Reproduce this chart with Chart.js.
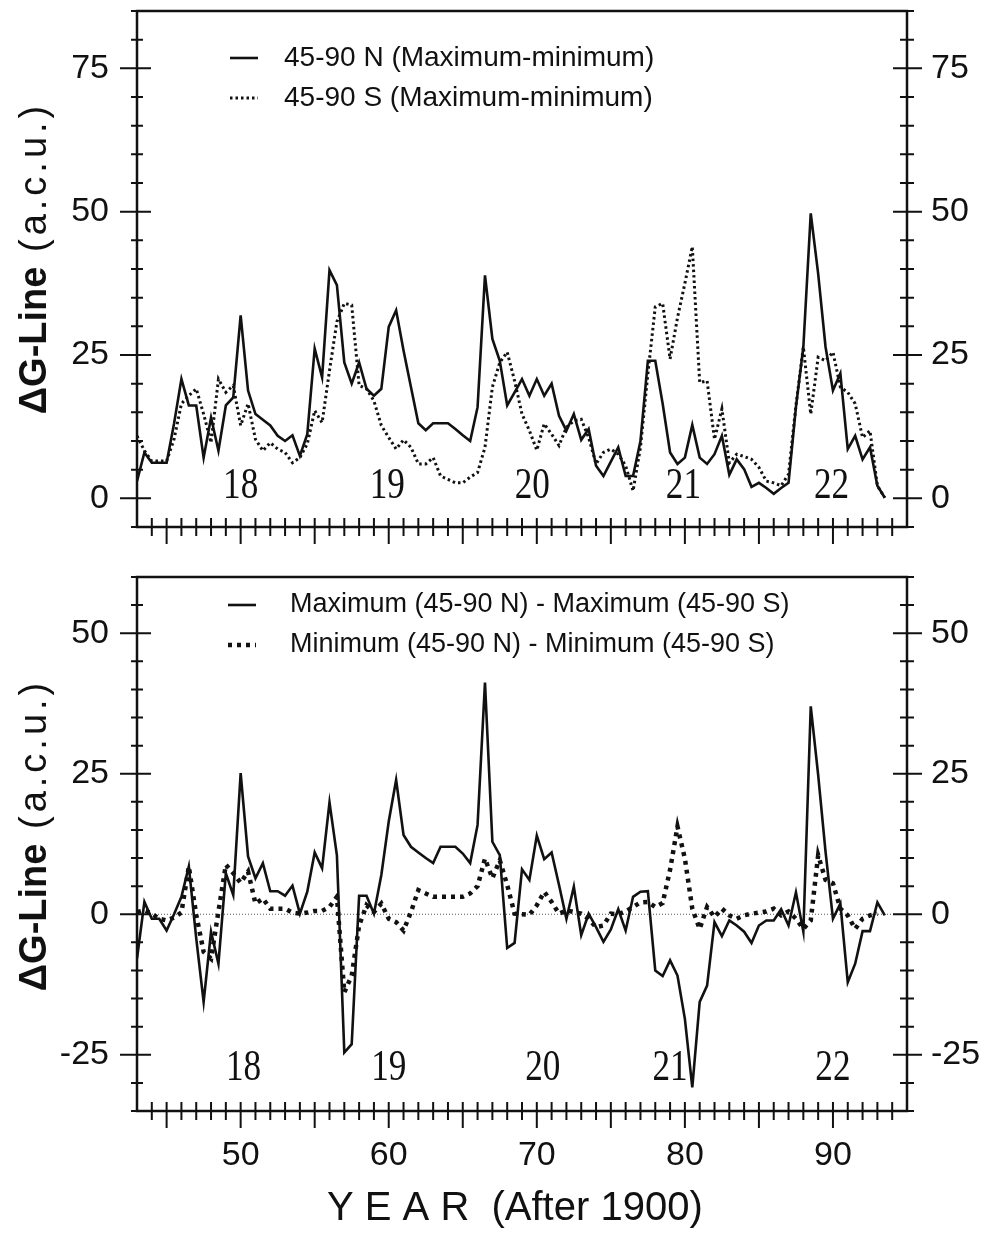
<!DOCTYPE html>
<html>
<head>
<meta charset="utf-8">
<script src="https://cdn.jsdelivr.net/npm/chart.js@4.4.1/dist/chart.umd.min.js"></script>
<style>
  body { margin: 0; background: #fff; }
  canvas { position: absolute; left: 0; }
  #topChart { top: 0; }
  #bottomChart { top: 560px; }
</style>
</head>
<body>
<canvas id="topChart" width="990" height="560"></canvas>
<canvas id="bottomChart" width="990" height="673"></canvas>
<script>
// half-year sample times (years after 1900)
var years = [
  43, 43.5, 44, 44.5, 45, 45.5, 46, 46.5, 47, 47.5,
  48, 48.5, 49, 49.5, 50, 50.5, 51, 51.5, 52, 52.5,
  53, 53.5, 54, 54.5, 55, 55.5, 56, 56.5, 57, 57.5,
  58, 58.5, 59, 59.5, 60, 60.5, 61, 61.5, 62, 62.5,
  63, 63.5, 64, 64.5, 65, 65.5, 66, 66.5, 67, 67.5,
  68, 68.5, 69, 69.5, 70, 70.5, 71, 71.5, 72, 72.5,
  73, 73.5, 74, 74.5, 75, 75.5, 76, 76.5, 77, 77.5,
  78, 78.5, 79, 79.5, 80, 80.5, 81, 81.5, 82, 82.5,
  83, 83.5, 84, 84.5, 85, 85.5, 86, 86.5, 87, 87.5,
  88, 88.5, 89, 89.5, 90, 90.5, 91, 91.5, 92, 92.5,
  93, 93.5
];

// upper panel: maximum-minimum, 45-90 N and 45-90 S
var rangeNorth = [
  3.0, 8.0, 6.2, 6.2, 6.2, 13.0, 20.8, 16.2, 16.2, 7.1,
  14.1, 8.3, 16.2, 17.6, 31.9, 18.8, 14.7, 13.7, 12.7, 10.9,
  10.0, 11.0, 7.4, 11.2, 26.1, 21.1, 39.8, 37.2, 23.7, 20.0,
  23.7, 19.1, 17.9, 19.1, 29.9, 32.8, 25.8, 19.4, 13.1, 11.9,
  13.1, 13.1, 13.1, 12.1, 11.0, 10.0, 15.9, 38.9, 27.8, 24.0,
  16.2, 18.5, 20.8, 17.9, 20.8, 17.9, 20.0, 14.4, 11.8, 14.7,
  10.2, 12.1, 5.7, 3.9, 6.4, 8.9, 3.9, 3.9, 10.0, 24.0,
  24.0, 16.5, 8.0, 6.0, 7.1, 12.8, 7.1, 6.0, 7.7, 10.9,
  4.1, 6.8, 5.1, 2.0, 2.7, 1.8, 0.8, 1.8, 2.7, 15.9,
  26.4, 49.7, 39.2, 26.4, 18.8, 21.8, 8.6, 10.9, 6.8, 8.9,
  2.2, 0.1
];
var rangeSouth = [
  10.9, 8.3, 6.5, 6.5, 6.5, 10.3, 16.5, 17.9, 19.1, 14.7,
  9.7, 20.8, 18.5, 19.7, 12.7, 16.5, 10.3, 8.3, 9.7, 8.6,
  8.0, 6.2, 7.1, 9.5, 15.3, 13.2, 22.3, 30.8, 34.0, 33.7,
  19.7, 19.1, 17.0, 12.7, 10.6, 8.6, 10.2, 8.9, 6.0, 6.0,
  7.1, 3.9, 3.3, 2.7, 2.7, 3.7, 4.5, 8.9, 19.4, 23.7,
  25.5, 20.5, 14.7, 11.8, 8.4, 13.0, 11.2, 9.2, 12.4, 13.5,
  13.8, 10.6, 6.0, 8.0, 8.6, 7.7, 5.7, 1.3, 8.9, 21.7,
  33.4, 34.0, 24.3, 31.5, 37.5, 43.9, 20.2, 20.5, 10.3, 15.6,
  6.2, 7.7, 7.3, 6.8, 5.4, 3.0, 2.7, 2.2, 4.2, 16.2,
  26.4, 14.7, 24.6, 24.0, 25.5, 19.4, 18.5, 16.5, 10.6, 11.8,
  2.2, 0.1
];

// lower panel: N minus S of the maxima and of the minima
var maxDiff = [
  -7.9, 2.2, -0.8, -0.8, -2.9, 0.0, 3.1, 8.5, -4.3, -15.6,
  -3.1, -8.8, 7.3, 3.4, 25.1, 10.3, 6.4, 9.1, 4.1, 4.1,
  3.3, 5.1, 0.1, 4.0, 11.0, 8.2, 19.9, 10.5, -24.6, -23.1,
  3.3, 3.3, 0.1, 7.0, 16.5, 23.9, 14.1, 12.0, 11.0, 10.0,
  9.1, 12.0, 12.0, 12.0, 10.8, 9.1, 15.9, 41.2, 12.9, 10.5,
  -6.0, -5.1, 8.0, 6.1, 14.0, 9.8, 11.0, 5.2, -0.8, 4.9,
  -3.7, 0.1, -2.3, -4.9, -2.7, 0.9, -2.9, 3.1, 4.0, 4.1,
  -10.0, -11.0, -8.2, -10.9, -18.6, -30.8, -15.6, -12.7, -1.4, -3.9,
  -1.1, -2.0, -3.1, -5.1, -2.0, -1.1, -1.1, 0.9, -2.0, 3.9,
  -3.1, 37.0, 24.8, 11.1, -0.8, 1.9, -12.1, -8.8, -3.0, -3.0,
  2.1, -0.2
];
var minDiff = [
  0.4, 0.7, 0.1, -0.8, -1.1, -0.6, 0.3, 8.5, -0.1, -6.7,
  -7.9, 0.5, 8.8, 7.3, 5.6, 7.6, 1.9, 2.8, 1.0, 1.0,
  1.0, 0.3, 0.1, 0.3, 0.6, 0.6, 1.3, 3.1, -13.9, -10.9,
  -2.0, 1.6, 0.4, 1.9, -0.8, -1.4, -2.9, 0.4, 4.3, 3.7,
  3.1, 3.1, 3.1, 3.1, 3.1, 3.7, 5.0, 9.9, 6.4, 9.6,
  5.2, 0.1, 0.0, -0.1, 1.6, 4.0, 2.2, 0.1, 0.7, 0.4,
  0.1, -0.8, -2.3, -2.0, 0.1, 0.0, 0.5, 1.3, 2.1, 2.2,
  1.3, 2.0, 7.9, 15.6, 9.9, 1.0, -2.6, 1.3, -0.5, 1.0,
  -0.2, -0.8, -0.2, 0.1, 0.3, 0.5, 1.0, -0.2, 0.5, -0.8,
  -2.6, -1.1, 10.5, 6.1, 5.5, 1.0, -0.2, -2.6, -0.8, -0.2,
  0.1, null
];

// solar cycle numbers and the years they are centred on
var cycleNames = ['18', '19', '20', '21', '22'];
var cycleYearsTop = [50, 59.9, 69.7, 79.9, 89.9];
var cycleYearsBottom = [50.2, 60, 70.4, 79, 90];

var INK = '#111';
var SANS = '"Liberation Sans", Arial, sans-serif';

function pts(vals) {
  return years.map(function (x, i) { return { x: x, y: vals[i] }; });
}

// frame with crossing tick marks, zero line, cycle numbers, legend and titles
var framePlugin = {
  id: 'frame',
  beforeDatasetsDraw: function (chart, args, o) {
    if (!o.zeroLine) return;
    var ctx = chart.ctx, a = chart.chartArea;
    var y0 = chart.scales.y.getPixelForValue(0);
    ctx.save();
    ctx.strokeStyle = '#555';
    ctx.lineWidth = 1;
    ctx.setLineDash([1, 2]);
    ctx.beginPath();
    ctx.moveTo(a.left, y0);
    ctx.lineTo(a.right, y0);
    ctx.stroke();
    ctx.restore();
  },
  afterDraw: function (chart, args, o) {
    var ctx = chart.ctx, a = chart.chartArea;
    var xs = chart.scales.x, ys = chart.scales.y;
    ctx.save();
    ctx.strokeStyle = INK;
    ctx.fillStyle = INK;
    ctx.lineWidth = 2.5;
    ctx.strokeRect(a.left, a.top, a.right - a.left, a.bottom - a.top);

    ctx.lineWidth = 2;
    ctx.beginPath();
    for (var v = Math.ceil(ys.min / 5) * 5; v <= ys.max; v += 5) {
      var py = ys.getPixelForValue(v);
      var major = v % 25 === 0;
      ctx.moveTo(a.left - (major ? 17 : 6), py);
      ctx.lineTo(a.left + (major ? 14 : 6), py);
      ctx.moveTo(a.right - (major ? 14 : 7), py);
      ctx.lineTo(a.right + (major ? 15 : 7), py);
    }
    for (var yr = Math.ceil(xs.min) + 1; yr < xs.max; yr++) {
      var px = xs.getPixelForValue(yr);
      ctx.moveTo(px, a.bottom - 9);
      ctx.lineTo(px, a.bottom + (yr % 5 === 0 ? 17 : 9));
    }
    ctx.stroke();

    // cycle numbers
    ctx.font = '44px "Liberation Serif", serif';
    ctx.textAlign = 'center';
    ctx.textBaseline = 'alphabetic';
    var by = ys.getPixelForValue(o.cycleBase);
    o.cycleYears.forEach(function (cy, i) {
      ctx.save();
      ctx.translate(xs.getPixelForValue(cy), by);
      ctx.scale(0.8, 1);
      ctx.fillText(cycleNames[i], 0, 0);
      ctx.restore();
    });

    // legend
    ctx.textAlign = 'left';
    ctx.textBaseline = 'middle';
    ctx.font = o.legendFont;
    o.legend.forEach(function (item) {
      ctx.save();
      ctx.lineWidth = item.width;
      ctx.setLineDash(item.dash);
      ctx.beginPath();
      ctx.moveTo(item.x1, item.y);
      ctx.lineTo(item.x2, item.y);
      ctx.stroke();
      ctx.restore();
      ctx.fillText(item.text, item.tx, item.y);
    });

    // rotated y title
    ctx.save();
    ctx.translate(o.yTitleX, o.yTitleY);
    ctx.rotate(-Math.PI / 2);
    var fb = 'bold 38px ' + SANS, fr = '38px ' + SANS;
    ctx.font = fb;
    var w1 = ctx.measureText('\u0394G-Line').width;
    ctx.font = fr;
    ctx.letterSpacing = '4px';
    var w2 = ctx.measureText(' (a.c.u.)').width;
    var x0 = -(w1 + w2) / 2;
    ctx.letterSpacing = '0px';
    ctx.font = fb;
    ctx.fillText('\u0394G-Line', x0, 0);
    ctx.font = fr;
    ctx.letterSpacing = '4px';
    ctx.fillText(' (a.c.u.)', x0 + w1, 0);
    ctx.letterSpacing = '0px';
    ctx.restore();

    if (o.xTitle) {
      ctx.font = '40px ' + SANS;
      ctx.textBaseline = 'alphabetic';
      ctx.fillText(o.xTitle, o.xTitleX, o.xTitleY);
    }
    ctx.restore();
  }
};

function makeChart(id, cfg) {
  var tickFont = { family: SANS, size: 34 };
  var yAxis = function (pos, width, pad) {
    return {
      position: pos,
      min: cfg.yMin,
      max: cfg.yMax,
      grid: { display: false, drawTicks: false },
      border: { display: false },
      ticks: {
        stepSize: 5,
        autoSkip: false,
        padding: pad,
        color: INK,
        font: tickFont,
        callback: function (v) { return v % 25 === 0 ? String(v) : null; }
      },
      afterFit: function (s) { s.width = width; s.paddingTop = 0; s.paddingBottom = 0; }
    };
  };
  return new Chart(document.getElementById(id).getContext('2d'), {
    type: 'line',
    data: {
      datasets: [
        {
          data: pts(cfg.solid),
          borderColor: INK,
          borderWidth: 2.6,
          pointRadius: 0,
          tension: 0
        },
        {
          data: pts(cfg.dotted),
          borderColor: INK,
          borderWidth: cfg.dotWidth,
          borderDash: cfg.dotDash,
          pointRadius: 0,
          tension: 0
        }
      ]
    },
    options: {
      responsive: false,
      animation: false,
      devicePixelRatio: 1,
      layout: { padding: { top: cfg.padTop, left: 0, right: 0, bottom: 0 } },
      plugins: {
        legend: { display: false },
        tooltip: { enabled: false },
        frame: cfg.frame
      },
      scales: {
        x: {
          type: 'linear',
          min: 43,
          max: 95,
          grid: { display: false, drawTicks: false },
          border: { display: false },
          ticks: {
            display: cfg.xLabels,
            stepSize: 10,
            autoSkip: false,
            padding: 24,
            color: INK,
            font: tickFont,
            maxRotation: 0,
            callback: function (v) { return v % 10 === 0 ? String(v) : null; }
          },
          afterFit: function (s) { s.height = cfg.xHeight; s.paddingLeft = 0; s.paddingRight = 0; }
        },
        y: yAxis('left', 137, 28),
        y2: yAxis('right', 83, 24)
      }
    },
    plugins: [framePlugin]
  });
}

makeChart('topChart', {
  solid: rangeNorth,
  dotted: rangeSouth,
  dotWidth: 3,
  dotDash: [2.5, 3],
  yMin: -5,
  yMax: 85,
  padTop: 11,
  xHeight: 33,
  xLabels: false,
  frame: {
    zeroLine: false,
    cycleYears: cycleYearsTop,
    cycleBase: 0,
    legendFont: '28px ' + SANS,
    legend: [
      { x1: 230, x2: 258, y: 58, width: 2.6, dash: [], tx: 284, text: '45-90 N (Maximum-minimum)' },
      { x1: 230, x2: 258, y: 98, width: 3, dash: [2.5, 3], tx: 284, text: '45-90 S (Maximum-minimum)' }
    ],
    yTitleX: 36,
    yTitleY: 258
  }
});

makeChart('bottomChart', {
  solid: maxDiff,
  dotted: minDiff,
  dotWidth: 4.5,
  dotDash: [4, 5],
  yMin: -35,
  yMax: 60,
  padTop: 17,
  xHeight: 122,
  xLabels: true,
  frame: {
    zeroLine: true,
    cycleYears: cycleYearsBottom,
    cycleBase: -29.5,
    legendFont: '27px ' + SANS,
    legend: [
      { x1: 228, x2: 256, y: 45, width: 2.6, dash: [], tx: 290, text: 'Maximum (45-90 N) - Maximum (45-90 S)' },
      { x1: 228, x2: 256, y: 85, width: 4.5, dash: [4, 5], tx: 290, text: 'Minimum (45-90 N) - Minimum (45-90 S)' }
    ],
    yTitleX: 36,
    yTitleY: 275,
    xTitle: 'Y E A R  (After 1900)',
    xTitleX: 327,
    xTitleY: 660
  }
});
</script>
</body>
</html>
